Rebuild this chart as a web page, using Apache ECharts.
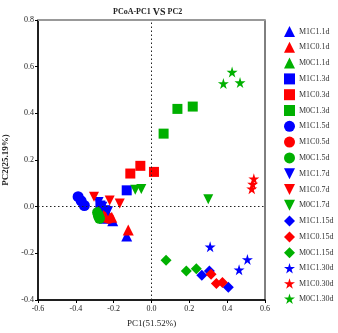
<!DOCTYPE html>
<html>
<head>
<meta charset="utf-8">
<script src="https://cdn.jsdelivr.net/npm/echarts@6/dist/echarts.min.js"></script>
<style>
  html, body { margin: 0; padding: 0; background: #fff; }
  #chart { width: 338px; height: 333px; }
</style>
</head>
<body>
<div id="chart"></div>
<script>
// groups in legend order
const groupNames = ['M1C1.1d', 'M1C0.1d', 'M0C1.1d', 'M1C1.3d', 'M1C0.3d', 'M0C1.3d',
  'M1C1.5d', 'M1C0.5d', 'M0C1.5d', 'M1C1.7d', 'M1C0.7d', 'M0C1.7d',
  'M1C1.15d', 'M1C0.15d', 'M0C1.15d', 'M1C1.30d', 'M1C0.30d', 'M0C1.30d']

// [PC1, PC2] per sample
const m1c1_1d = [[-0.205, -0.06], [-0.131, -0.126], [-0.25, -0.05]]
const m1c0_1d = [[-0.123, -0.10], [-0.21, -0.045], [-0.26, -0.04]]
const m0c1_1d = [[-0.28, -0.02], [-0.27, -0.04], [-0.25, -0.03]]
const m1c1_3d = [[-0.131, 0.070], [-0.27, 0.005], [-0.245, -0.015]]
const m1c0_3d = [[-0.112, 0.142], [-0.059, 0.175], [0.013, 0.149]]
const m0c1_3d = [[0.137, 0.419], [0.218, 0.429], [0.064, 0.313]]
const m1c1_5d = [[-0.388, 0.043], [-0.372, 0.025], [-0.355, 0.005]]
const m1c0_5d = [[-0.27, -0.035], [-0.245, -0.045], [-0.225, -0.05]]
const m0c1_5d = [[-0.285, -0.025], [-0.28, -0.04], [-0.275, -0.05]]
const m1c1_7d = [[-0.28, 0.02], [-0.26, 0.0], [-0.23, -0.02]]
const m1c0_7d = [[-0.304, 0.043], [-0.221, 0.026], [-0.168, 0.014]]
const m0c1_7d = [[-0.086, 0.073], [-0.054, 0.076], [0.30, 0.032]]
const m1c1_15d = [[0.266, -0.294], [0.306, -0.276], [0.406, -0.345]]
const m1c0_15d = [[0.343, -0.329], [0.375, -0.325], [0.315, -0.29]]
const m0c1_15d = [[0.077, -0.23], [0.184, -0.276], [0.237, -0.266]]
const m1c1_30d = [[0.31, -0.172], [0.507, -0.226], [0.463, -0.27]]
const m1c0_30d = [[0.541, 0.12], [0.535, 0.097], [0.53, 0.077]]
const m0c1_30d = [[0.426, 0.577], [0.38, 0.528], [0.468, 0.532]]

const groupData = [m1c1_1d, m1c0_1d, m0c1_1d, m1c1_3d, m1c0_3d, m0c1_3d,
  m1c1_5d, m1c0_5d, m0c1_5d, m1c1_7d, m1c0_7d, m0c1_7d,
  m1c1_15d, m1c0_15d, m0c1_15d, m1c1_30d, m1c0_30d, m0c1_30d]

const colors = ['#0000ff', '#ff0000', '#00b000']
const downTri = 'path://M0,0 L10,0 L5,10 Z'
const star = 'path://M50,0 L61,35 L98,35 L68,57 L79,91 L50,70 L21,91 L32,57 L2,35 L39,35 Z'
const shapes = ['triangle', 'rect', 'circle', downTri, 'diamond', star]
const sizes = [11, 10, 11, 10, 11, 11]

const font = 'Liberation Serif'

let chart = echarts.init(document.getElementById('chart'))

let series = groupNames.map((name, i) => {
  let s = {
    name: name,
    type: 'scatter',
    data: groupData[i],
    symbol: shapes[Math.floor(i / 3)],
    symbolSize: sizes[Math.floor(i / 3)],
    itemStyle: { color: colors[i % 3], opacity: 1 },
    z: 3
  }
  return s
})

// dotted zero lines
series.unshift({
  type: 'scatter',
  data: [],
  z: 1,
  markLine: {
    silent: true,
    symbol: 'none',
    label: { show: false },
    lineStyle: { type: [1.5, 2.5], color: '#222', width: 1 },
    data: [{ xAxis: 0 }, { yAxis: 0 }]
  }
})

let option = {
  animation: false,
  title: {
    text: '{n|PCoA-PC1 }{b|VS}{n| PC2}',
    left: 108,
    top: 2,
    textStyle: {
      rich: {
        n: { fontFamily: font, fontSize: 8, color: '#222' },
        b: { fontFamily: font, fontSize: 10, fontWeight: 'bold', color: '#222' }
      }
    }
  },
  grid: {
    left: 38,
    right: 73,
    top: 20,
    bottom: 33,
    outerBoundsMode: 'none',
    containLabel: false,
    show: true,
    borderColor: '#000',
    borderWidth: 1
  },
  legend: {
    orient: 'vertical',
    left: 284,
    top: 26,
    padding: 0,
    itemWidth: 11,
    itemHeight: 11,
    itemGap: 4.8,
    textStyle: { fontFamily: font, fontSize: 8, color: '#333', padding: [0, 0, 0, -1] },
    data: groupNames
  },
  xAxis: [{
    type: 'value',
    min: -0.6,
    max: 0.6,
    interval: 0.2,
    name: 'PC1(51.52%)',
    nameLocation: 'middle',
    nameGap: 19,
    nameTextStyle: { fontFamily: font, fontSize: 9, color: '#222' },
    axisLine: { show: true, onZero: false, lineStyle: { color: '#000', width: 1.5 } },
    axisTick: { show: true, length: 3, lineStyle: { color: '#000' } },
    axisLabel: { fontFamily: font, fontSize: 8, color: '#222', margin: 5, formatter: v => v.toFixed(1) },
    splitLine: { show: false }
  }, {
    type: 'value',
    position: 'top',
    min: -0.6,
    max: 0.6,
    axisLine: { show: true, onZero: false, lineStyle: { color: '#999', width: 2 } },
    axisTick: { show: false },
    axisLabel: { show: false },
    splitLine: { show: false }
  }],
  yAxis: {
    type: 'value',
    min: -0.4,
    max: 0.8,
    interval: 0.2,
    name: 'PC2(25.19%)',
    nameLocation: 'middle',
    nameGap: 25,
    nameTextStyle: { fontFamily: font, fontSize: 9, fontWeight: 'bold', color: '#222' },
    axisLine: { show: true, onZero: false, lineStyle: { color: '#000', width: 1.5 } },
    axisTick: { show: true, length: 3, lineStyle: { color: '#000' } },
    axisLabel: { fontFamily: font, fontSize: 8, color: '#222', margin: 4, formatter: v => v.toFixed(1) },
    splitLine: { show: false }
  },
  series: series
}

chart.setOption(option)
</script>
</body>
</html>
